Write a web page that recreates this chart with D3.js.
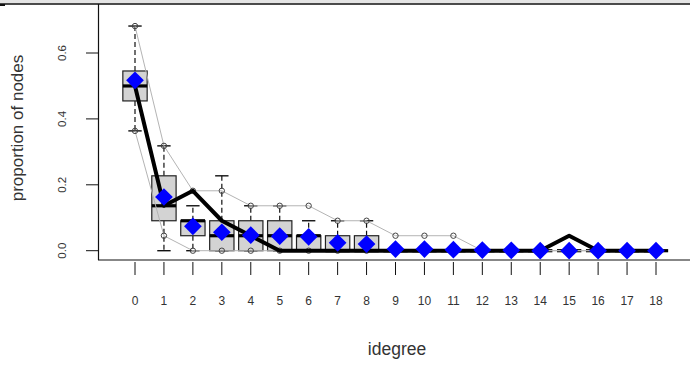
<!DOCTYPE html>
<html>
<head>
<meta charset="utf-8">
<script src="https://cdn.jsdelivr.net/npm/d3@7"></script>
<style>
  html, body { margin: 0; padding: 0; background: #fff; }
  svg { display: block; font-family: "Liberation Sans", Arial, sans-serif; }
</style>
</head>
<body>
<svg id="chart" width="690" height="368"></svg>
<script>
// Degree categories (in-degree 0..18)
const degrees = ["0","1","2","3","4","5","6","7","8","9","10","11","12","13","14","15","16","17","18"];
const n = 22; // network size: proportions are counts / n

// Simulated distribution summary per degree (counts of nodes)
const whiskerLow  = [8, 0, 0, 0, 0, 0, 0, 0, 0, 0, 0, 0, 0, 0, 0, 0, 0, 0, 0];
const boxLow      = [10, 2, 1, 0, 0, 0, 0, 0, 0, 0, 0, 0, 0, 0, 0, 0, 0, 0, 0];
const boxMedian   = [11, 3, 2, 1, 1, 1, 1, 0, 0, 0, 0, 0, 0, 0, 0, 0, 0, 0, 0];
const boxHigh     = [12, 5, 2, 2, 2, 2, 1, 1, 1, 0, 0, 0, 0, 0, 0, 0, 0, 0, 0];
const whiskerHigh = [15, 7, 3, 5, 3, 3, 2, 2, 2, 0, 0, 0, 0, 0, 0, 0, 0, 0, 0];

// Outer simulation bounds (thin grey lines with circles)
const boundLow  = [8, 1, 0, 0, 0, 0, 0, 0, 0, 0, 0, 0, 0, 0, 0, 0, 0, 0, 0];
const boundHigh = [15, 7, 4, 4, 3, 3, 3, 2, 2, 1, 1, 1, 0, 0, 0, 0, 0, 0, 0];

// Observed network (thick black line), counts of nodes
const observed = [11, 3, 4, 2, 1, 0, 0, 0, 0, 0, 0, 0, 0, 0, 0, 1, 0, 0, 0];

// Mean of simulated proportions (blue diamonds)
const simMean = [0.517, 0.163, 0.074, 0.056, 0.047, 0.044, 0.042, 0.024, 0.020,
                 0.005, 0.005, 0.003, 0.002, 0.001, 0, 0, 0, 0, 0];

// Y axis ticks
const yTicks = [0, 0.2, 0.4, 0.6];

const svg = d3.select("#chart");

const x = d3.scaleLinear().domain([0, 18]).range([135, 656]);
const y = d3.scaleLinear().domain([0, 0.6]).range([250.7, 53]);
const p = v => v / n;
const step = x(1) - x(0);
const boxW = step * 0.84;
const capW = boxW * 0.55;

// window strip and plot frame
svg.append("rect").attr("x", 0).attr("y", 0).attr("width", 690).attr("height", 3.5).attr("fill", "#e4e4e4");
svg.append("line").attr("x1", 0).attr("x2", 690).attr("y1", 4).attr("y2", 4)
   .attr("stroke", "#111").attr("stroke-width", 1.5);
svg.append("rect").attr("x", 0).attr("y", 4).attr("width", 5).attr("height", 2).attr("fill", "#111");
svg.append("line").attr("x1", 98.5).attr("x2", 98.5).attr("y1", 4).attr("y2", 260)
   .attr("stroke", "#111").attr("stroke-width", 1.2);
svg.append("line").attr("x1", 98).attr("x2", 690).attr("y1", 260).attr("y2", 260)
   .attr("stroke", "#111").attr("stroke-width", 1.2);

// y axis
const yAxis = svg.append("g");
yTicks.forEach(t => {
  yAxis.append("line").attr("x1", 86).attr("x2", 98).attr("y1", y(t)).attr("y2", y(t))
    .attr("stroke", "#111").attr("stroke-width", 1);
  yAxis.append("text").attr("transform", `translate(66,${y(t)}) rotate(-90)`)
    .attr("text-anchor", "middle").attr("font-size", 11.5).attr("fill", "#333")
    .text(d3.format(".1f")(t));
});
svg.append("text").attr("transform", "translate(23,128) rotate(-90)")
  .attr("text-anchor", "middle").attr("font-size", 17).attr("fill", "#333")
  .text("proportion of nodes");

// x axis
const xAxis = svg.append("g");
degrees.forEach((d, i) => {
  xAxis.append("line").attr("x1", x(i)).attr("x2", x(i)).attr("y1", 262).attr("y2", 275)
    .attr("stroke", "#111").attr("stroke-width", 1);
  xAxis.append("text").attr("x", x(i)).attr("y", 305).attr("text-anchor", "middle")
    .attr("font-size", 12).attr("fill", "#333").text(d);
});
svg.append("text").attr("x", 397).attr("y", 355).attr("text-anchor", "middle")
  .attr("font-size", 17.5).attr("fill", "#333").text("idegree");

// box plots
const boxes = svg.append("g");
degrees.forEach((d, i) => {
  const cx = x(i);
  const g = boxes.append("g");
  // whiskers
  if (whiskerHigh[i] > boxHigh[i]) {
    g.append("line").attr("x1", cx).attr("x2", cx).attr("y1", y(p(boxHigh[i]))).attr("y2", y(p(whiskerHigh[i])))
      .attr("stroke", "#111").attr("stroke-width", 1.2).attr("stroke-dasharray", "5,3");
  }
  if (whiskerLow[i] < boxLow[i]) {
    g.append("line").attr("x1", cx).attr("x2", cx).attr("y1", y(p(boxLow[i]))).attr("y2", y(p(whiskerLow[i])))
      .attr("stroke", "#111").attr("stroke-width", 1.2).attr("stroke-dasharray", "5,3");
  }
  [whiskerHigh[i], whiskerLow[i]].forEach(v => {
    g.append("line").attr("x1", cx - capW / 2).attr("x2", cx + capW / 2)
      .attr("y1", y(p(v))).attr("y2", y(p(v))).attr("stroke", "#111").attr("stroke-width", 1.4);
  });
  // box
  if (boxHigh[i] > boxLow[i]) {
    g.append("rect").attr("x", cx - boxW / 2).attr("width", boxW)
      .attr("y", y(p(boxHigh[i]))).attr("height", y(p(boxLow[i])) - y(p(boxHigh[i])))
      .attr("fill", "#d3d3d3").attr("stroke", "#222").attr("stroke-width", 1.2);
  }
  // median
  g.append("line").attr("x1", cx - boxW / 2).attr("x2", cx + boxW / 2)
    .attr("y1", y(p(boxMedian[i]))).attr("y2", y(p(boxMedian[i])))
    .attr("stroke", "#000").attr("stroke-width", 3.2);
});

// simulation bounds
const bounds = svg.append("g");
[boundHigh, boundLow].forEach(arr => {
  bounds.append("path")
    .attr("d", d3.line().x((v, i) => x(i)).y(v => y(p(v)))(arr))
    .attr("fill", "none").attr("stroke", "#b4b4b4").attr("stroke-width", 1);
  arr.forEach((v, i) => {
    bounds.append("circle").attr("cx", x(i)).attr("cy", y(p(v))).attr("r", 2.7)
      .attr("fill", "none").attr("stroke", "#444").attr("stroke-width", 1);
  });
});

// observed line
svg.append("path")
  .attr("d", d3.line().x((v, i) => x(i)).y(v => y(p(v)))(observed))
  .attr("fill", "none").attr("stroke", "#000").attr("stroke-width", 4)
  .attr("stroke-linejoin", "round");

// simulated means
svg.append("g").selectAll("path").data(simMean).join("path")
  .attr("transform", (v, i) => `translate(${x(i)},${y(v)})`)
  .attr("d", d3.symbol().type(d3.symbolDiamond2).size(200))
  .attr("fill", "#0000ff");
</script>
</body>
</html>
